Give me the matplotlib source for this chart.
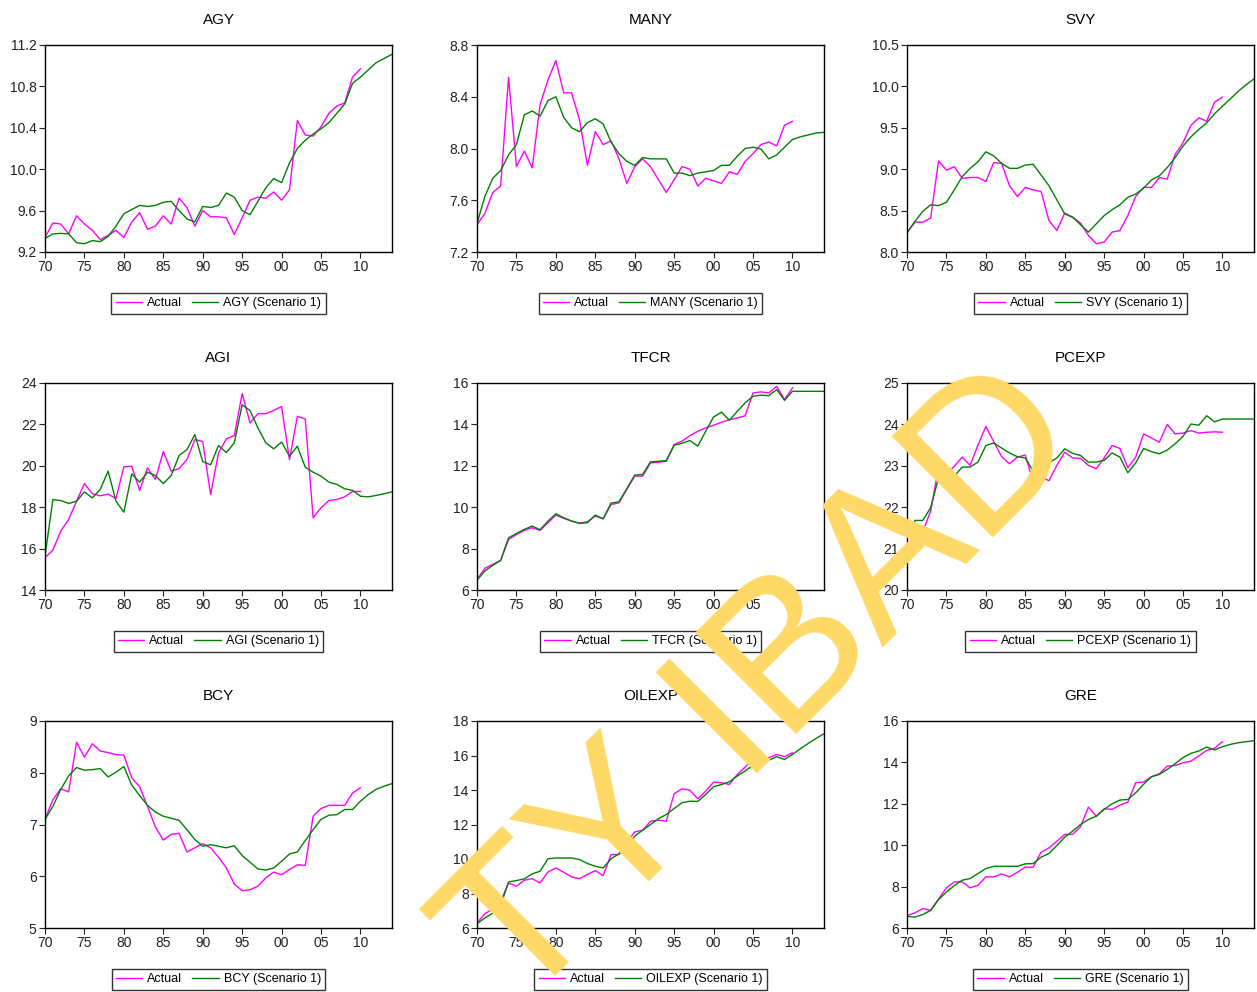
import matplotlib.pyplot as plt
import numpy as np

plt.rcParams['font.family'] = ['Liberation Sans', 'DejaVu Sans']

# years: actual runs 1970-2010, scenario runs 1970-2014
years_act = np.arange(1970, 2011)
years_scn = np.arange(1970, 2015)

agy_act = [9.34, 9.48, 9.47, 9.375, 9.55, 9.47, 9.41, 9.32, 9.36, 9.41, 9.34, 9.49, 9.58, 9.42, 9.45,
           9.55, 9.47, 9.72, 9.63, 9.45, 9.60, 9.54, 9.54, 9.53, 9.37, 9.53, 9.70, 9.73, 9.72, 9.78,
           9.70, 9.80, 10.47, 10.33, 10.32, 10.41, 10.54, 10.61, 10.64, 10.89, 10.97]
agy_scn = [9.33, 9.375, 9.38, 9.375, 9.29, 9.28, 9.31, 9.30, 9.35, 9.45, 9.57, 9.61, 9.65, 9.64, 9.65,
           9.68, 9.69, 9.60, 9.52, 9.49, 9.64, 9.63, 9.65, 9.77, 9.73, 9.60, 9.56, 9.69, 9.82, 9.91,
           9.87, 10.06, 10.20, 10.28, 10.34, 10.39, 10.45, 10.54, 10.63, 10.83, 10.89, 10.96, 11.03, 11.07, 11.11]

many_act = [7.41, 7.50, 7.66, 7.71, 8.55, 7.86, 7.98, 7.85, 8.34, 8.53, 8.68, 8.43, 8.43, 8.22, 7.87,
            8.13, 8.03, 8.06, 7.92, 7.73, 7.86, 7.92, 7.86, 7.76, 7.66, 7.76, 7.86, 7.84, 7.71, 7.77,
            7.75, 7.73, 7.82, 7.80, 7.90, 7.96, 8.03, 8.05, 8.02, 8.18, 8.21]
many_scn = [7.42, 7.63, 7.77, 7.83, 7.95, 8.03, 8.26, 8.29, 8.25, 8.37, 8.40, 8.24, 8.16, 8.13, 8.20,
            8.23, 8.19, 8.05, 7.96, 7.90, 7.87, 7.93, 7.92, 7.92, 7.92, 7.81, 7.81, 7.79, 7.81, 7.82,
            7.83, 7.87, 7.87, 7.94, 8.00, 8.01, 7.996, 7.92, 7.95, 8.01, 8.07, 8.09, 8.105, 8.12, 8.125]

svy_act = [8.23, 8.36, 8.36, 8.41, 9.10, 8.99, 9.03, 8.89, 8.90, 8.90, 8.85, 9.08, 9.07, 8.80, 8.67,
           8.78, 8.75, 8.73, 8.38, 8.26, 8.47, 8.42, 8.35, 8.20, 8.10, 8.12, 8.24, 8.26, 8.44, 8.67,
           8.78, 8.78, 8.90, 8.88, 9.18, 9.32, 9.53, 9.62, 9.58, 9.81, 9.87]
svy_scn = [8.23, 8.37, 8.49, 8.57, 8.56, 8.60, 8.75, 8.91, 9.01, 9.09, 9.21, 9.16, 9.07, 9.01, 9.01,
           9.05, 9.06, 8.93, 8.80, 8.63, 8.46, 8.42, 8.33, 8.24, 8.34, 8.44, 8.51, 8.57, 8.66, 8.70,
           8.77, 8.87, 8.92, 9.02, 9.14, 9.28, 9.39, 9.48, 9.56, 9.67, 9.76, 9.85, 9.94, 10.02, 10.09]

agi_act = [15.56, 15.93, 16.85, 17.41, 18.29, 19.14, 18.65, 18.55, 18.63, 18.42, 19.95, 19.98, 18.81,
           19.90, 19.34, 20.69, 19.74, 19.87, 20.30, 21.27, 21.17, 18.61, 20.62, 21.30, 21.46, 23.49,
           22.07, 22.52, 22.52, 22.67, 22.87, 20.30, 22.39, 22.26, 17.49, 17.97, 18.32, 18.37, 18.50,
           18.76, 18.76]
agi_scn = [15.64, 18.37, 18.32, 18.18, 18.29, 18.74, 18.45, 18.86, 19.74, 18.29, 17.76, 19.61, 19.21,
           19.69, 19.53, 19.14, 19.53, 20.50, 20.78, 21.51, 20.20, 20.05, 20.98, 20.64, 21.11, 22.95,
           22.67, 21.83, 21.11, 20.82, 21.15, 20.46, 20.95, 19.93, 19.69, 19.50, 19.21, 19.10, 18.89,
           18.81, 18.53, 18.50, 18.57, 18.65, 18.74]

tfcr_act = [6.51, 7.05, 7.24, 7.43, 8.44, 8.68, 8.88, 9.01, 8.88, 9.25, 9.62, 9.46, 9.33, 9.23, 9.30,
            9.57, 9.44, 10.13, 10.21, 10.86, 11.50, 11.50, 12.14, 12.17, 12.22, 13.03, 13.19, 13.46,
            13.67, 13.83, 13.96, 14.10, 14.23, 14.31, 14.42, 15.52, 15.57, 15.52, 15.84, 15.20, 15.76]
tfcr_scn = [6.47, 6.92, 7.19, 7.43, 8.52, 8.73, 8.93, 9.09, 8.91, 9.33, 9.68, 9.49, 9.33, 9.22, 9.25,
            9.62, 9.44, 10.20, 10.26, 10.90, 11.55, 11.58, 12.19, 12.22, 12.25, 12.99, 13.09, 13.22,
            12.95, 13.67, 14.36, 14.59, 14.20, 14.63, 15.04, 15.36, 15.41, 15.39, 15.68, 15.16, 15.60,
            15.60, 15.60, 15.60, 15.60]

pcexp_act = [20.66, 21.18, 21.40, 21.91, 22.95, 22.79, 22.99, 23.21, 23.01, 23.50, 23.95, 23.58, 23.22,
             23.05, 23.21, 23.26, 22.61, 22.73, 22.64, 23.01, 23.33, 23.19, 23.18, 23.01, 22.93, 23.19,
             23.49, 23.42, 22.95, 23.21, 23.77, 23.67, 23.57, 24.00, 23.77, 23.79, 23.85, 23.79, 23.81,
             23.82, 23.81]
pcexp_scn = [20.68, 21.68, 21.68, 21.99, 22.71, 22.73, 22.75, 22.97, 22.97, 23.09, 23.49, 23.55, 23.43,
             23.31, 23.22, 23.19, 22.87, 23.13, 23.07, 23.19, 23.41, 23.30, 23.25, 23.09, 23.09, 23.13,
             23.31, 23.21, 22.83, 23.07, 23.42, 23.34, 23.29, 23.38, 23.53, 23.71, 24.01, 23.98, 24.21,
             24.06, 24.13, 24.13, 24.13, 24.13, 24.13]

bcy_act = [7.10, 7.48, 7.69, 7.63, 8.59, 8.30, 8.56, 8.42, 8.39, 8.35, 8.34, 7.90, 7.73, 7.35, 6.95,
           6.70, 6.81, 6.83, 6.47, 6.55, 6.63, 6.55, 6.37, 6.16, 5.85, 5.72, 5.74, 5.81, 5.97, 6.08,
           6.03, 6.13, 6.22, 6.21, 7.16, 7.31, 7.37, 7.37, 7.37, 7.61, 7.71]
bcy_scn = [7.10, 7.35, 7.68, 7.94, 8.10, 8.05, 8.06, 8.08, 7.92, 8.01, 8.12, 7.76, 7.56, 7.37, 7.24,
           7.16, 7.12, 7.08, 6.90, 6.71, 6.58, 6.61, 6.58, 6.55, 6.59, 6.40, 6.27, 6.14, 6.12, 6.16,
           6.29, 6.43, 6.47, 6.69, 6.90, 7.10, 7.18, 7.19, 7.29, 7.29, 7.45, 7.58, 7.68, 7.74, 7.79]

oilexp_act = [6.29, 6.83, 7.10, 7.55, 8.61, 8.42, 8.77, 8.86, 8.61, 9.25, 9.48, 9.23, 8.96, 8.86, 9.10,
              9.33, 9.04, 10.26, 10.26, 10.97, 11.57, 11.67, 12.19, 12.25, 12.19, 13.78, 14.07, 13.99,
              13.49, 13.93, 14.46, 14.42, 14.32, 14.90, 15.33, 15.77, 15.81, 15.87, 16.06, 15.93, 16.16]
oilexp_scn = [6.25, 6.58, 6.87, 7.30, 8.67, 8.75, 8.85, 9.14, 9.29, 10.01, 10.06, 10.06, 10.06, 9.97,
              9.74, 9.58, 9.48, 10.01, 10.30, 10.78, 11.32, 11.67, 12.00, 12.33, 12.58, 12.93, 13.26,
              13.35, 13.34, 13.74, 14.19, 14.32, 14.48, 14.81, 15.10, 15.43, 15.58, 15.73, 15.93, 15.77,
              16.06, 16.39, 16.70, 16.99, 17.26]

gre_act = [6.60, 6.73, 6.94, 6.85, 7.40, 7.94, 8.23, 8.23, 7.94, 8.06, 8.47, 8.47, 8.61, 8.47, 8.69,
           8.94, 8.94, 9.66, 9.87, 10.19, 10.52, 10.52, 10.89, 11.84, 11.40, 11.76, 11.73, 11.94, 12.08,
           13.02, 13.05, 13.31, 13.45, 13.82, 13.85, 13.98, 14.06, 14.31, 14.58, 14.68, 15.00]
gre_scn = [6.56, 6.53, 6.65, 6.85, 7.37, 7.74, 8.05, 8.31, 8.39, 8.63, 8.87, 8.98, 8.98, 8.98, 8.98,
           9.10, 9.11, 9.42, 9.60, 9.98, 10.39, 10.68, 11.00, 11.24, 11.40, 11.73, 12.00, 12.18, 12.21,
           12.53, 12.94, 13.31, 13.42, 13.66, 13.94, 14.23, 14.44, 14.55, 14.74, 14.60, 14.76, 14.87,
           14.95, 15.00, 15.05]

names = ['AGY', 'MANY', 'SVY', 'AGI', 'TFCR', 'PCEXP', 'BCY', 'OILEXP', 'GRE']
actual = [agy_act, many_act, svy_act, agi_act, tfcr_act, pcexp_act, bcy_act, oilexp_act, gre_act]
scenario = [agy_scn, many_scn, svy_scn, agi_scn, tfcr_scn, pcexp_scn, bcy_scn, oilexp_scn, gre_scn]
# y-axis ticks (lo, hi, step, decimals)
yticks = [(9.2, 11.2, 0.4, 1), (7.2, 8.8, 0.4, 1), (8.0, 10.5, 0.5, 1),
          (14, 24, 2, 0), (6, 16, 2, 0), (20, 25, 1, 0),
          (5, 9, 1, 0), (6, 18, 2, 0), (6, 16, 2, 0)]
xtick_years = list(range(1970, 2011, 5))
xtick_labels = ['70', '75', '80', '85', '90', '95', '00', '05', '10']

W, H = 1257, 992
fig = plt.figure(figsize=(W / 100, H / 100), dpi=100)

col_left = [45, 477, 907]
row_top = [45, 383, 721]
ax_w, ax_h = 347, 207

for i, name in enumerate(names):
    r, c = divmod(i, 3)
    ax = fig.add_axes([col_left[c] / W, 1 - (row_top[r] + ax_h) / H, ax_w / W, ax_h / H])
    ax.plot(years_act, actual[i], color='#FF00FF', lw=1.0, label='Actual')
    ax.plot(years_scn, scenario[i], color='#008000', lw=1.0, label=name + ' (Scenario 1)')
    lo, hi, step, dec = yticks[i]
    ax.set_ylim(lo, hi)
    ticks = np.arange(lo, hi + step / 2, step)
    ax.set_yticks(ticks)
    ax.set_yticklabels([f'{t:.{dec}f}' for t in ticks])
    ax.set_xlim(1970, 2014)
    ax.set_xticks(xtick_years)
    ax.set_xticklabels(xtick_labels)
    ax.tick_params(direction='out', length=4, width=0.8, labelsize=10, pad=2, colors='#222222')
    for s in ax.spines.values():
        s.set_linewidth(1.0)
    ax.set_title(name, fontsize=11, pad=15)
    leg = ax.legend(loc='upper center', bbox_to_anchor=(0.5, -0.198), ncol=2, frameon=True,
                    fancybox=False, edgecolor='black', fontsize=9, handlelength=2.1,
                    handletextpad=0.4, columnspacing=0.8, borderpad=0.35, borderaxespad=0)
    leg.get_frame().set_linewidth(1.0)

# yellow watermark of the source document, thin letters running up to the right
fig.text(765 / W, 1 - 690 / H, 'TY IBAD', fontsize=150, color='#FFD966',
         rotation=45, rotation_mode='anchor', ha='center', va='center', zorder=10)

plt.savefig('out.png', dpi=100)
